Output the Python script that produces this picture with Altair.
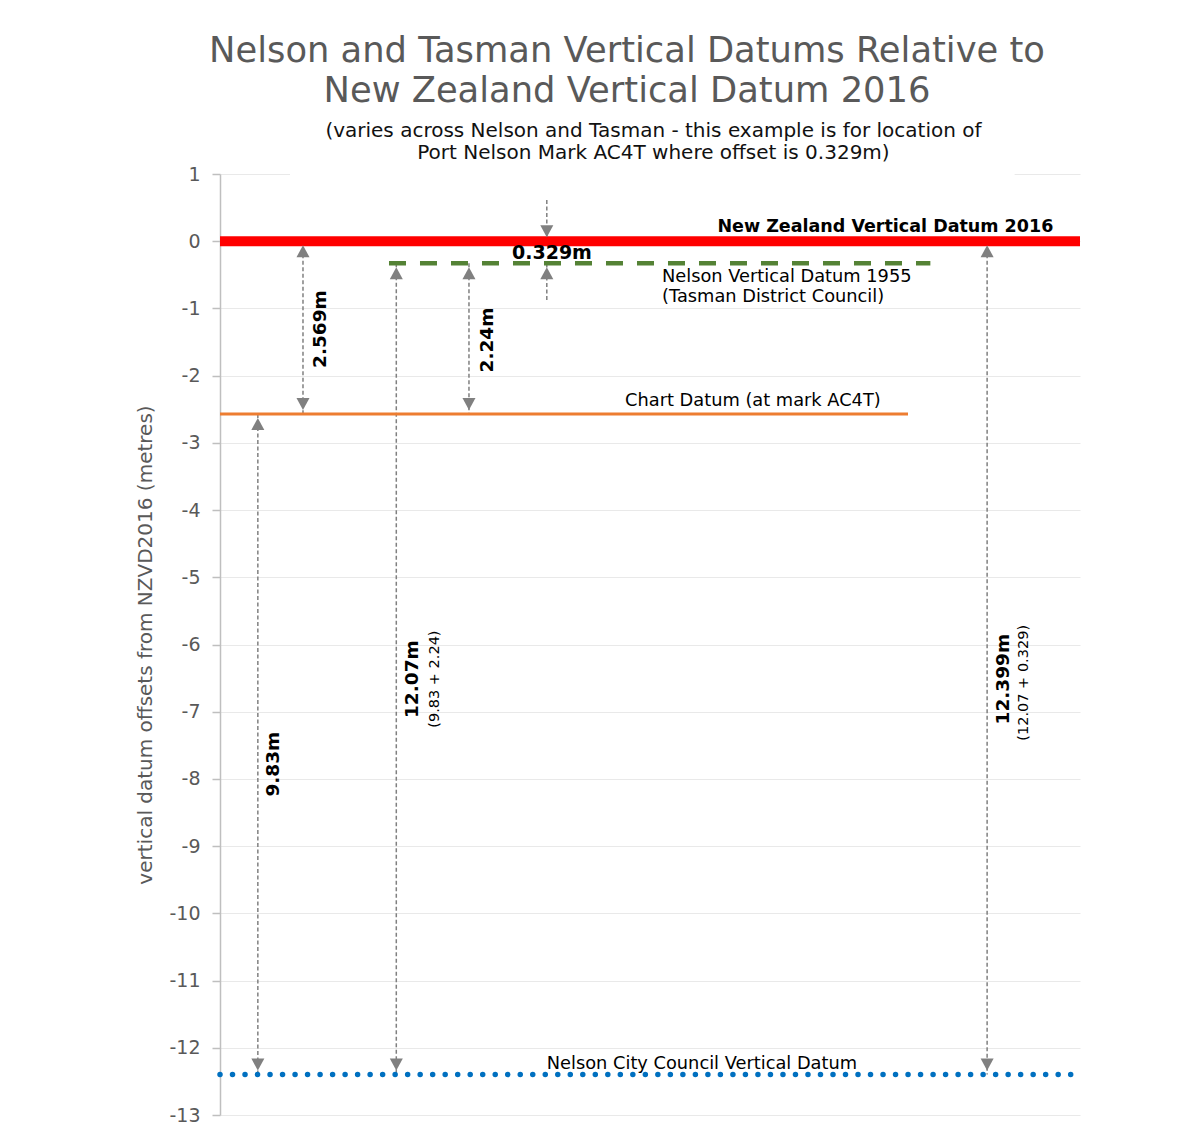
import altair as alt
import pandas as pd

# ---------------- data ----------------
datum_names = ["New Zealand Vertical Datum 2016", "Nelson Vertical Datum 1955",
               "Chart Datum (at mark AC4T)", "Nelson City Council Vertical Datum"]
datum_values = [0.0, -0.329, -2.569, -12.399]
datum_x_start = [0.0, 19.65, 0.0, 0.0]
datum_x_end = [100.0, 82.6, 80.0, 100.0]

# offset arrows (x position, top value, bottom value)
arrow_x = [9.65, 28.95, 4.4, 20.5, 89.2]
arrow_top = [0.0, -0.329, -2.569, -0.329, 0.0]
arrow_bottom = [-2.569, -2.569, -12.399, -12.399, -12.399]

# small inward arrows for the 0.329 m offset
small_x = [38.0, 38.0]
small_from = [0.613, -0.875]
small_to = [0.0, -0.329]

# rotated offset labels
rot_text = ["2.569m", "2.24m", "9.83m", "12.07m", "12.399m"]
rot_x = [11.6, 31.05, 6.16, 22.33, 91.05]
rot_y = [-1.307, -1.47, -7.78, -6.515, -6.515]
sub_text = ["(9.83 + 2.24)", "(12.07 + 0.329)"]
sub_x = [25.0, 93.5]
sub_y = [-6.515, -6.57]

# datum labels
lab_text = ["New Zealand Vertical Datum 2016", "Nelson Vertical Datum 1955",
            "(Tasman District Council)", "Chart Datum (at mark AC4T)",
            "Nelson City Council Vertical Datum"]
lab_x = [96.9, 51.4, 51.4, 47.1, 38.0]
lab_y = [0.211, -0.533, -0.83, -2.378, -12.24]
lab_bold = [True, False, False, False, False]

offset_label = ["0.329m"]
offset_label_x = [38.6]
offset_label_y = [-0.176]

subtitle_lines = ["(varies across Nelson and Tasman - this example is for location of",
                  "Port Nelson Mark AC4T where offset is 0.329m)"]
subtitle_x = [50.4, 50.4]
subtitle_y = [1.64, 1.3125]

# white title box that hides the top gridline (x from/to, y from/to)
box_x = [8.14, 92.4]
box_y = [0.96, 1.04]

title_lines = ["Nelson and Tasman Vertical Datums Relative to",
               "New Zealand Vertical Datum 2016"]

# ---------------- tables ----------------
datums = pd.DataFrame({"name": datum_names, "y": datum_values,
                       "x1": datum_x_start, "x2": datum_x_end})

shafts = pd.DataFrame({"x": arrow_x + small_x,
                       "y1": arrow_top + small_from,
                       "y2": arrow_bottom + small_to})
heads_up = pd.DataFrame({"x": arrow_x + [small_x[1]],
                         "y": arrow_top + [small_to[1]]})
heads_down = pd.DataFrame({"x": arrow_x + [small_x[0]],
                           "y": arrow_bottom + [small_to[0]]})

rot = pd.DataFrame({"t": rot_text, "x": rot_x, "y": rot_y})
sub = pd.DataFrame({"t": sub_text, "x": sub_x, "y": sub_y})
labs = pd.DataFrame({"t": lab_text, "x": lab_x, "y": lab_y, "bold": lab_bold})
offl = pd.DataFrame({"t": offset_label, "x": offset_label_x, "y": offset_label_y})
subt = pd.DataFrame({"t": subtitle_lines, "x": subtitle_x, "y": subtitle_y})
box = pd.DataFrame({"x1": [box_x[0]], "x2": [box_x[1]],
                    "y1": [box_y[0]], "y2": [box_y[1]]})

FONT = "DejaVu Sans"
GRAY = "#808080"

xs = alt.Scale(domain=[0, 100], nice=False, zero=False)
ys = alt.Scale(domain=[-13, 1], nice=False, zero=False)

X = lambda f: alt.X(f, type="quantitative", scale=xs, axis=None)

base_axis = alt.Axis(values=list(range(-13, 2)), grid=True, gridColor="#e9e9e9",
                     gridWidth=1, domainColor="#bfbfbf", domainWidth=1.5,
                     tickColor="#bfbfbf", tickSize=8, tickWidth=1.5,
                     labelPadding=12, labelFontSize=19, labelColor="#595959",
                     labelFont=FONT, labelExpr="toString(datum.value)",
                     title="vertical datum offsets from NZVD2016 (metres)",
                     titleFont=FONT, titleFontSize=20, titleColor="#595959",
                     titleFontWeight="normal", titlePadding=13)

Y = lambda f: alt.Y(f, type="quantitative", scale=ys, axis=base_axis)

box_layer = alt.Chart(box).mark_rect(color="white").encode(
    x=X("x1"), x2="x2", y=Y("y1"), y2="y2")

shaft_layer = alt.Chart(shafts).mark_rule(color=GRAY, strokeWidth=1.5,
                                          strokeDash=[4, 2.5]).encode(
    x=X("x"), y=Y("y1"), y2="y2")

def datum_line(name, **kw):
    return alt.Chart(datums).transform_filter(alt.datum.name == name).mark_rule(**kw).encode(
        x=X("x1"), x2="x2", y=Y("y"))

red = datum_line(datum_names[0], color="#ff0000", strokeWidth=10)
green = datum_line(datum_names[1], color="#548235", strokeWidth=4.5,
                   strokeDash=[17, 14])
orange = datum_line(datum_names[2], color="#ed7d31", strokeWidth=3)
blue = datum_line(datum_names[3], color="#0070c0", strokeWidth=5.5,
                  strokeDash=[0.01, 12.5], strokeCap="round")

UP = "M0,1.333L-2.17,5.333L2.17,5.333Z"
DOWN = "M0,-1.333L-2.17,-5.333L2.17,-5.333Z"
up_layer = alt.Chart(heads_up).mark_point(shape=UP, size=36, filled=True,
                                          color=GRAY, opacity=1).encode(
    x=X("x"), y=Y("y"))
down_layer = alt.Chart(heads_down).mark_point(shape=DOWN, size=36, filled=True,
                                              color=GRAY, opacity=1).encode(
    x=X("x"), y=Y("y"))

rot_layer = alt.Chart(rot).mark_text(angle=270, font=FONT, fontSize=18.5,
                                     fontWeight="bold", color="black",
                                     baseline="middle", align="center").encode(
    x=X("x"), y=Y("y"), text="t")
sub_layer = alt.Chart(sub).mark_text(angle=270, font=FONT, fontSize=14.5,
                                     color="black", baseline="middle",
                                     align="center").encode(
    x=X("x"), y=Y("y"), text="t")

lab_bold_layer = alt.Chart(labs).transform_filter(alt.datum.bold == True).mark_text(
    font=FONT, fontSize=17.5, fontWeight="bold", color="black", align="right",
    baseline="middle").encode(x=X("x"), y=Y("y"), text="t")
lab_reg_layer = alt.Chart(labs).transform_filter(alt.datum.bold == False).mark_text(
    font=FONT, fontSize=17.8, color="black", align="left",
    baseline="middle").encode(x=X("x"), y=Y("y"), text="t")

off_layer = alt.Chart(offl).mark_text(font=FONT, fontSize=19, fontWeight="bold",
                                      color="black", align="center",
                                      baseline="middle").encode(
    x=X("x"), y=Y("y"), text="t")

subt_layer = alt.Chart(subt).mark_text(font=FONT, fontSize=20, color="#111111",
                                       align="center", baseline="middle").encode(
    x=X("x"), y=Y("y"), text="t")

chart = alt.layer(
    box_layer, shaft_layer, red, green, orange, blue, up_layer, down_layer,
    rot_layer, sub_layer, lab_bold_layer, lab_reg_layer, off_layer, subt_layer
).properties(
    width=860, height=941,
    padding={"left": 212, "top": 166, "right": 90, "bottom": 14},
    autosize=alt.AutoSizeParams(type="none"),
    title=alt.TitleParams(text=title_lines, font=FONT, fontSize=35.3,
                          fontWeight="normal", color="#595959", anchor="middle",
                          dx=-23, lineHeight=40, offset=12),
).configure(background="white").configure_view(stroke=None, strokeWidth=0)

chart.save("out.html", embed_options={"renderer": "svg", "actions": False})
